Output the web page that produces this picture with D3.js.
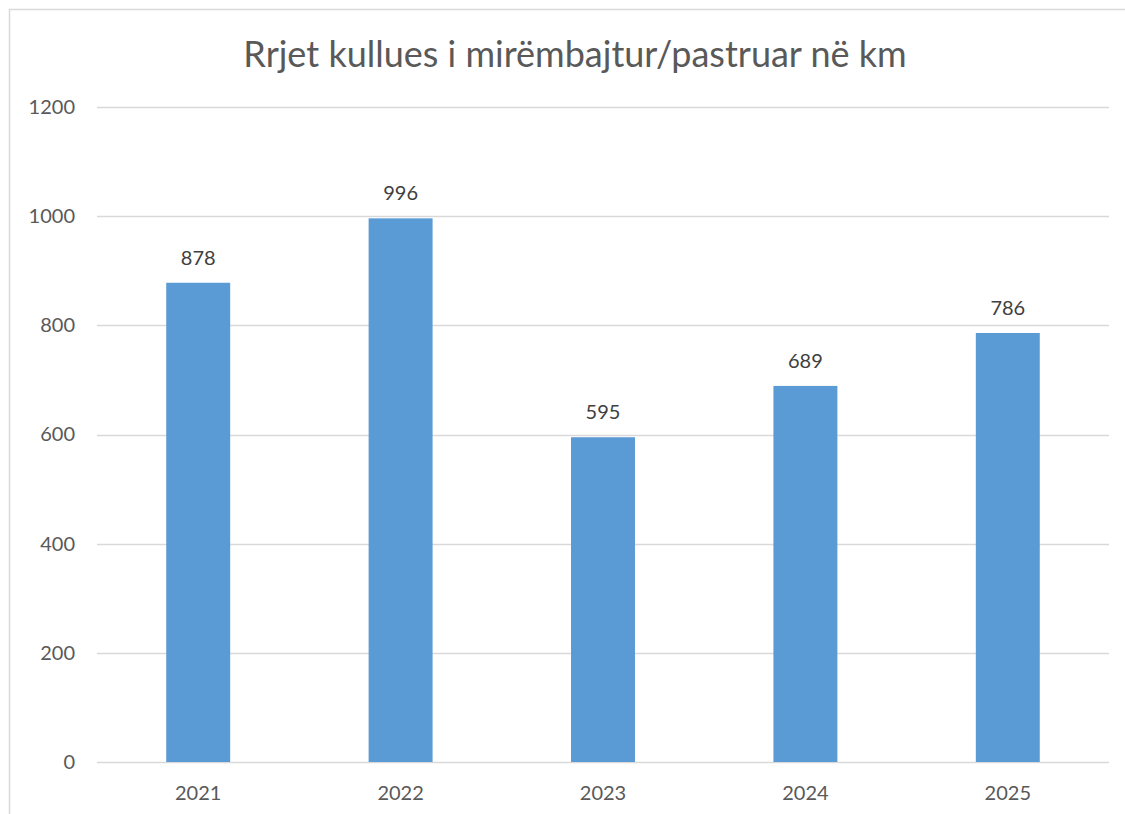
<!DOCTYPE html>
<html>
<head>
<meta charset="utf-8">
<script src="https://cdn.jsdelivr.net/npm/d3@7"></script>
<style>
  body { margin: 0; background: #fff; }
  svg { display: block; font-family: Lato, "Open Sans", sans-serif; }
</style>
</head>
<body>
<svg id="chart" width="1125" height="814"></svg>
<script>
// -- data -- //
let years = ["2021", "2022", "2023", "2024", "2025"];
let km = [878, 996, 595, 689, 786];
let yTicks = [0, 200, 400, 600, 800, 1000, 1200];
let title = "Rrjet kullues i mirëmbajtur/pastruar në km";

let svg = d3.select("#chart");

// -- chart area frame -- //
svg.append("rect")
    .attr("x", 9.5).attr("y", 9.5)
    .attr("width", 1140).attr("height", 830)
    .style("fill", "none")
    .style("stroke", "#d9d9d9")
    .style("stroke-width", 1.5);

let plotLeft = 97, plotRight = 1109, plotTop = 107, plotBottom = 762;

let xScale = d3.scaleBand().domain(years).range([plotLeft, plotRight]).padding(0);
let yScale = d3.scaleLinear().domain([0, 1200]).range([plotBottom, plotTop]);

// -- gridlines -- //
svg.append("g").selectAll("line")
    .data(yTicks)
    .enter()
    .append("line")
    .attr("x1", plotLeft).attr("x2", plotRight)
    .attr("y1", d => Math.round(yScale(d)) + 0.5)
    .attr("y2", d => Math.round(yScale(d)) + 0.5)
    .style("stroke", "#d9d9d9")
    .style("stroke-width", 1.5);

// -- y axis labels -- //
let yAxis = d3.axisLeft(yScale).tickValues(yTicks).tickFormat(d3.format("d")).tickSize(0).tickPadding(0);
let yg = svg.append("g")
    .attr("transform", `translate(75, 0)`)
    .call(yAxis);
yg.select(".domain").remove();
yg.selectAll("text")
    .style("font-size", "20px")
    .style("fill", "#595959")
    .style("font-family", "Lato, 'Open Sans', sans-serif");

// -- x axis labels -- //
let xAxis = d3.axisBottom(xScale).tickSize(0).tickPadding(0);
let xg = svg.append("g")
    .attr("transform", `translate(0, 786)`)
    .call(xAxis);
xg.select(".domain").remove();
xg.selectAll("text")
    .style("font-size", "20px")
    .style("fill", "#595959")
    .style("font-family", "Lato, 'Open Sans', sans-serif");

// -- bars -- //
let barW = xScale.bandwidth() * 0.316;
let data = years.map((y, i) => ({ year: y, value: km[i] }));

svg.selectAll(".bar")
    .data(data)
    .enter()
    .append("rect")
    .attr("class", "bar")
    .attr("x", d => xScale(d.year) + xScale.bandwidth() / 2 - barW / 2)
    .attr("y", d => yScale(d.value))
    .attr("width", barW)
    .attr("height", d => plotBottom - yScale(d.value))
    .style("fill", "#5b9bd5");

// -- value labels -- //
svg.selectAll(".val")
    .data(data)
    .enter()
    .append("text")
    .attr("class", "val")
    .attr("x", d => xScale(d.year) + xScale.bandwidth() / 2)
    .attr("y", d => yScale(d.value) - 18)
    .attr("text-anchor", "middle")
    .style("font-size", "20px")
    .style("fill", "#404040")
    .text(d => d.value);

// -- title -- //
svg.append("text")
    .attr("x", 575)
    .attr("y", 67)
    .attr("text-anchor", "middle")
    .style("font-size", "36px")
    .style("fill", "#595959")
    .text(title);
</script>
</body>
</html>
